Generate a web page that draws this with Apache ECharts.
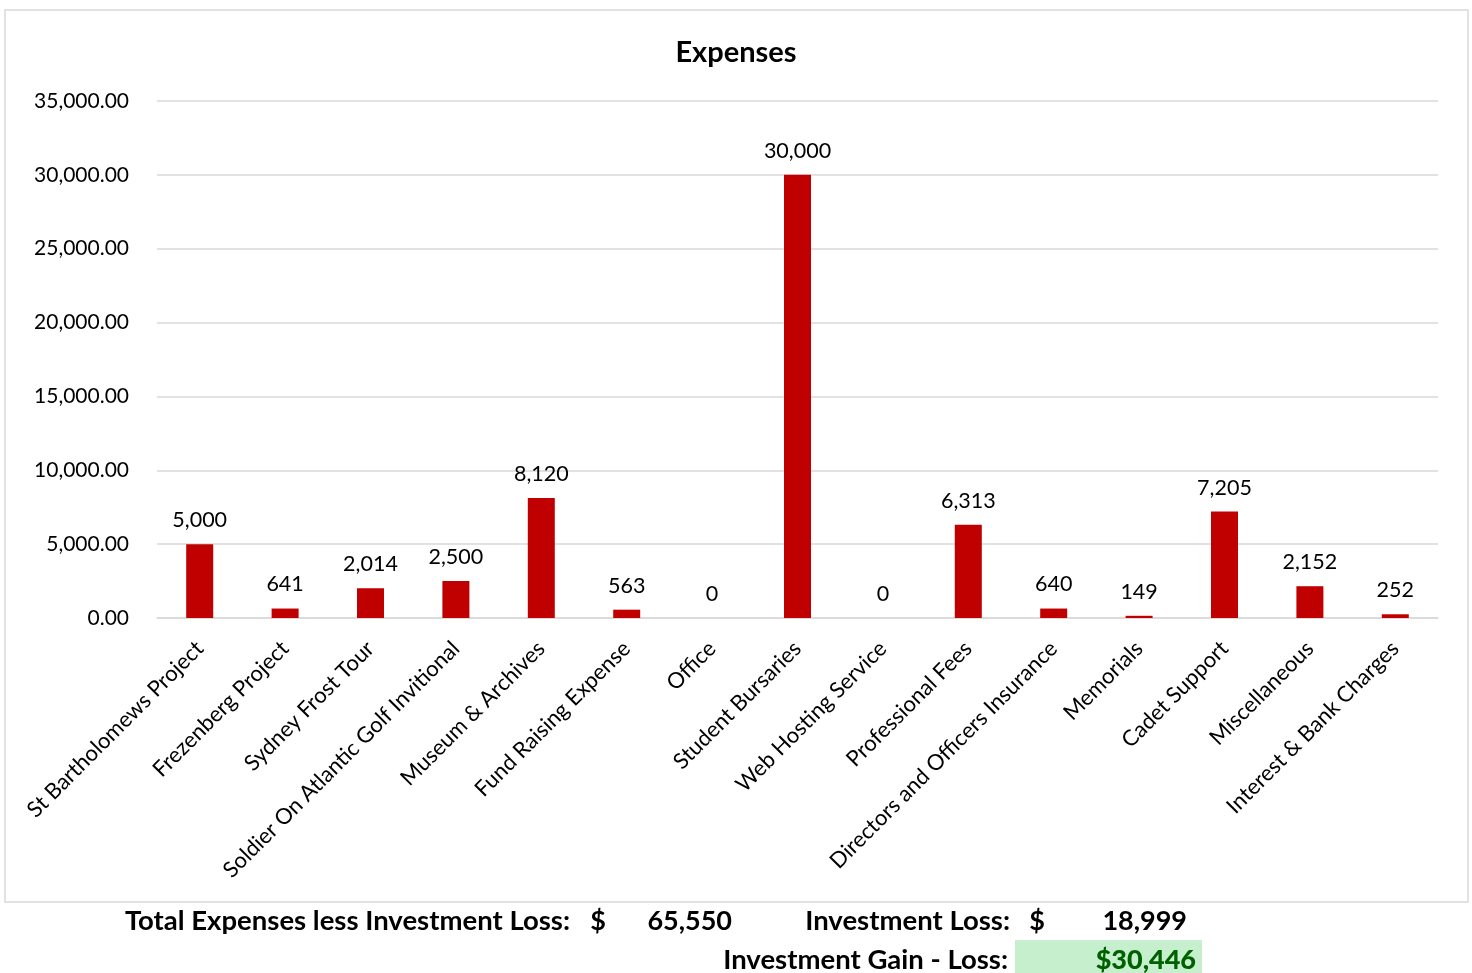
<!DOCTYPE html>
<html><head><meta charset="utf-8">
<script src="https://cdn.jsdelivr.net/npm/echarts@6/dist/echarts.min.js"></script>
<style>html,body{margin:0;padding:0;background:#fff}#c{width:1472px;height:973px}</style>
</head><body><div id="c"></div>
<script>
const categories = ["St Bartholomews Project","Frezenberg Project","Sydney Frost Tour","Soldier On Atlantic Golf Invitional","Museum & Archives","Fund Raising Expense","Office","Student Bursaries","Web Hosting Service","Professional Fees","Directors and Officers Insurance","Memorials","Cadet Support","Miscellaneous","Interest & Bank Charges"];
const expenses = [5000,641,2014,2500,8120,563,0,30000,0,6313,640,149,7205,2152,252];
const yTicks = {min:0, max:35000, interval:5000};
const summary = {totalLabel:"Total Expenses less Investment Loss:", total:"65,550", lossLabel:"Investment Loss:", loss:"18,999", gainLabel:"Investment Gain - Loss:", gain:"$30,446"};

const FONT = 'Lato, "Open Sans", sans-serif';
const chart = echarts.init(document.getElementById('c'), null, {renderer:'canvas'});
chart.setOption({
  animation:false,
  backgroundColor:'#fff',
  textStyle:{fontFamily:FONT},
  title:{text:'Expenses', left:'center', top:33, textStyle:{fontFamily:FONT, fontSize:29, fontWeight:'bold', color:'#000'}},
  grid:{left:157, right:34, top:101, bottom:355, containLabel:false},
  xAxis:{type:'category', data:categories,
    axisLine:{lineStyle:{color:'#d9d9d9', width:1.5}}, axisTick:{show:false},
    axisLabel:{rotate:45, interval:0, fontSize:22, color:'#000', fontFamily:FONT, margin:27}},
  yAxis:{type:'value', min:yTicks.min, max:yTicks.max, interval:yTicks.interval,
    axisLine:{show:false}, axisTick:{show:false},
    splitLine:{lineStyle:{color:'#d9d9d9', width:1.5}},
    axisLabel:{fontSize:21, color:'#000', fontFamily:FONT, margin:28,
      formatter:v=>v.toLocaleString('en-US',{minimumFractionDigits:2, maximumFractionDigits:2})}},
  series:[{type:'bar', data:expenses, barWidth:27, itemStyle:{color:'#C00000'},
    label:{show:true, position:'top', distance:13, fontSize:21.5, color:'#000', fontFamily:FONT,
      formatter:p=>p.value.toLocaleString('en-US')}}],
  graphic:[
    {type:'rect', shape:{x:5, y:10, width:1463, height:892}, style:{fill:'none', stroke:'#d9d9d9', lineWidth:1.5}, silent:true},
    {type:'rect', shape:{x:1015, y:940, width:187, height:33}, style:{fill:'#C6EFCE'}, silent:true},
    {type:'text', x:570, y:921, style:{text:summary.totalLabel, align:'right', verticalAlign:'middle', font:'bold 27.5px '+FONT, fill:'#000'}},
    {type:'text', x:598, y:921, style:{text:'$', align:'center', verticalAlign:'middle', font:'bold 27px '+FONT, fill:'#000'}},
    {type:'text', x:732, y:921, style:{text:summary.total, align:'right', verticalAlign:'middle', font:'bold 27px '+FONT, fill:'#000'}},
    {type:'text', x:1010, y:921, style:{text:summary.lossLabel, align:'right', verticalAlign:'middle', font:'bold 27.5px '+FONT, fill:'#000'}},
    {type:'text', x:1037, y:921, style:{text:'$', align:'center', verticalAlign:'middle', font:'bold 27px '+FONT, fill:'#000'}},
    {type:'text', x:1187, y:921, style:{text:summary.loss, align:'right', verticalAlign:'middle', font:'bold 27px '+FONT, fill:'#000'}},
    {type:'text', x:1008, y:960, style:{text:summary.gainLabel, align:'right', verticalAlign:'middle', font:'bold 27.5px '+FONT, fill:'#000'}},
    {type:'text', x:1196, y:960, style:{text:summary.gain, align:'right', verticalAlign:'middle', font:'900 27px '+FONT, fill:'#006100'}}
  ]
});
</script></body></html>
